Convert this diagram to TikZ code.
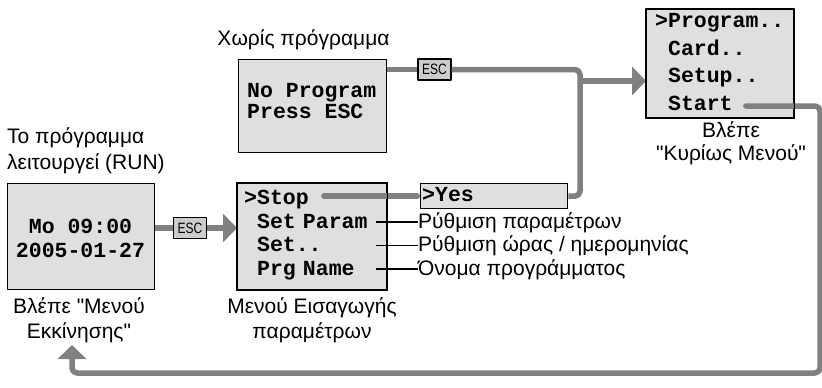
\documentclass[tikz,border=0pt]{standalone}
\usepackage{fontspec}
\setmainfont{Liberation Sans}
\setmonofont{Liberation Mono}
\usetikzlibrary{arrows.meta,positioning}

\begin{document}
\begin{tikzpicture}[x=1pt,y=-1pt,line join=round,
  lcd/.style={fill=gray!25,draw=black,line width=1.3pt,inner sep=0pt,anchor=north west},
  lcdframe/.style={draw=black,line width=1.3pt},
  lcdtxt/.style={font=\ttfamily\bfseries\fontsize{21.5}{24}\selectfont,inner sep=0pt,anchor=base west,text height=12pt,text depth=0pt},
  menuitem/.style={lcdtxt,text width=129pt},
  capt/.style={font=\fontsize{21}{25}\selectfont,inner sep=0pt,anchor=base,text height=13pt,text depth=0pt},
  esckey/.style={draw=black,fill=gray!40,line width=1.1pt,inner sep=0pt,minimum width=33pt,minimum height=21pt,font=\addfontfeatures{FakeStretch=0.8}\fontsize{15}{15}\selectfont},
  flow/.style={draw=gray,line width=5.5pt,rounded corners=5pt},
  flowarrow/.style={flow,-{Triangle[length=14pt,width=28pt]}},
  pointer/.style={draw=black,line width=1.6pt}]
\useasboundingbox (0,0) rectangle (822,388);

% displays
\node[lcd,minimum width=147pt,minimum height=106pt] (run) at (7,183) {};
\node[lcd,minimum width=148pt,minimum height=93pt] (noprg) at (238,59) {};
\node[lcd,minimum width=149pt,minimum height=106pt] (param) at (237,183) {};
\node[lcd,minimum width=147pt,minimum height=25pt] (yes) at (420,183) {};
\node[lcd,minimum width=147pt,minimum height=108pt] (main) at (646,9) {};

% display texts
\node[lcdtxt,anchor=base] (runday) at (80.5,233) {Mo 09:00};
\node[lcdtxt,anchor=base] (rundate) at (80.5,257) {2005-01-27};
\node[lcdtxt] (noprgA) at (247,97.5) {No Program};
\node[lcdtxt] (noprgB) at (247,118.5) {Press ESC};
\node[lcdtxt] (stop) at (244,204.5) {>Stop};
\node[menuitem] (setparam) at (244,228) {\phantom{>}Set Param};
\node[menuitem] (setclock) at (244,251.5) {\phantom{>}Set..};
\node[menuitem] (prgname) at (244,275) {\phantom{>}Prg Name};
\node[lcdtxt] (yestxt) at (422,201.5) {>Yes};
\node[lcdtxt] (mprog) at (655,27.5) {>Program..};
\node[lcdtxt] (mcard) at (655,55) {\phantom{>}Card..};
\node[lcdtxt] (msetup) at (655,82.5) {\phantom{>}Setup..};
\node[lcdtxt] (mstart) at (655,110) {\phantom{>}Start};

% captions
\node[capt,anchor=base west] (runcapA) at (7,143) {Το πρόγραμμα};
\node[capt,anchor=base west] (runcapB) at (7,169) {λειτουργεί (RUN)};
\node[capt] (runseeA) at (79,313) {Βλέπε \textquotedbl Μενού};
\node[capt] (runseeB) at (79,338) {Εκκίνησης\textquotedbl};
\node[capt] (noprgcap) at (303.5,45) {Χωρίς πρόγραμμα};
\node[capt] (paramcapA) at (312,313) {Μενού Εισαγωγής};
\node[capt] (paramcapB) at (312,338) {παραμέτρων};
\node[capt] (mainseeA) at (731,137) {Βλέπε};
\node[capt] (mainseeB) at (731,160) {\textquotedbl Κυρίως Μενού\textquotedbl};
\node[capt,anchor=base west] (lblparam) at (418,228) {Ρύθμιση παραμέτρων};
\node[capt,anchor=base west] (lblclock) at (418,251.5) {Ρύθμιση ώρας / ημερομηνίας};
\node[capt,anchor=base west] (lblname) at (418,275) {Όνομα προγράμματος};

% ESC keys
\node[esckey] (escrun) at (190,228) {ESC};
\node[esckey] (escnoprg) at (434.5,69.5) {ESC};

% flows
\coordinate (junction) at (580,81);
\coordinate (backturn) at (820,373);
\coordinate (backend) at (72,345);
\draw[flow] (run.east |- escrun) -- (escrun.west);
\draw[flowarrow] (escrun.east) -- (param.west |- escrun);
\draw[flow] (noprg.east |- escnoprg) -- (escnoprg.west);
\draw[flow] (escnoprg.east) -- (escnoprg.east -| junction) -- (junction |- yes.east) -- (yes.east);
\draw[flowarrow] (junction) -- (main.west |- junction);
\draw[flow,line cap=round,shorten >=2.75pt] ([xshift=15pt]stop.east |- yes.west) -- (yes.west);
\draw[flowarrow,line cap=round] ([xshift=13pt,yshift=-2pt]mstart.east) -- ([yshift=-2pt]mstart.east -| backturn) -- (backturn) -- (backend |- backturn) -- (backend);

% pointers
\draw[pointer] ([xshift=3pt]setparam.east) -- (setparam.east -| lblparam.west);
\draw[pointer] ([xshift=3pt]setclock.east) -- (setclock.east -| lblclock.west);
\draw[pointer] ([xshift=3pt]prgname.east) -- (prgname.east -| lblname.west);

\foreach \b in {param,main}
  \draw[lcdframe] (\b.north west) rectangle (\b.south east);
\end{tikzpicture}
\end{document}
